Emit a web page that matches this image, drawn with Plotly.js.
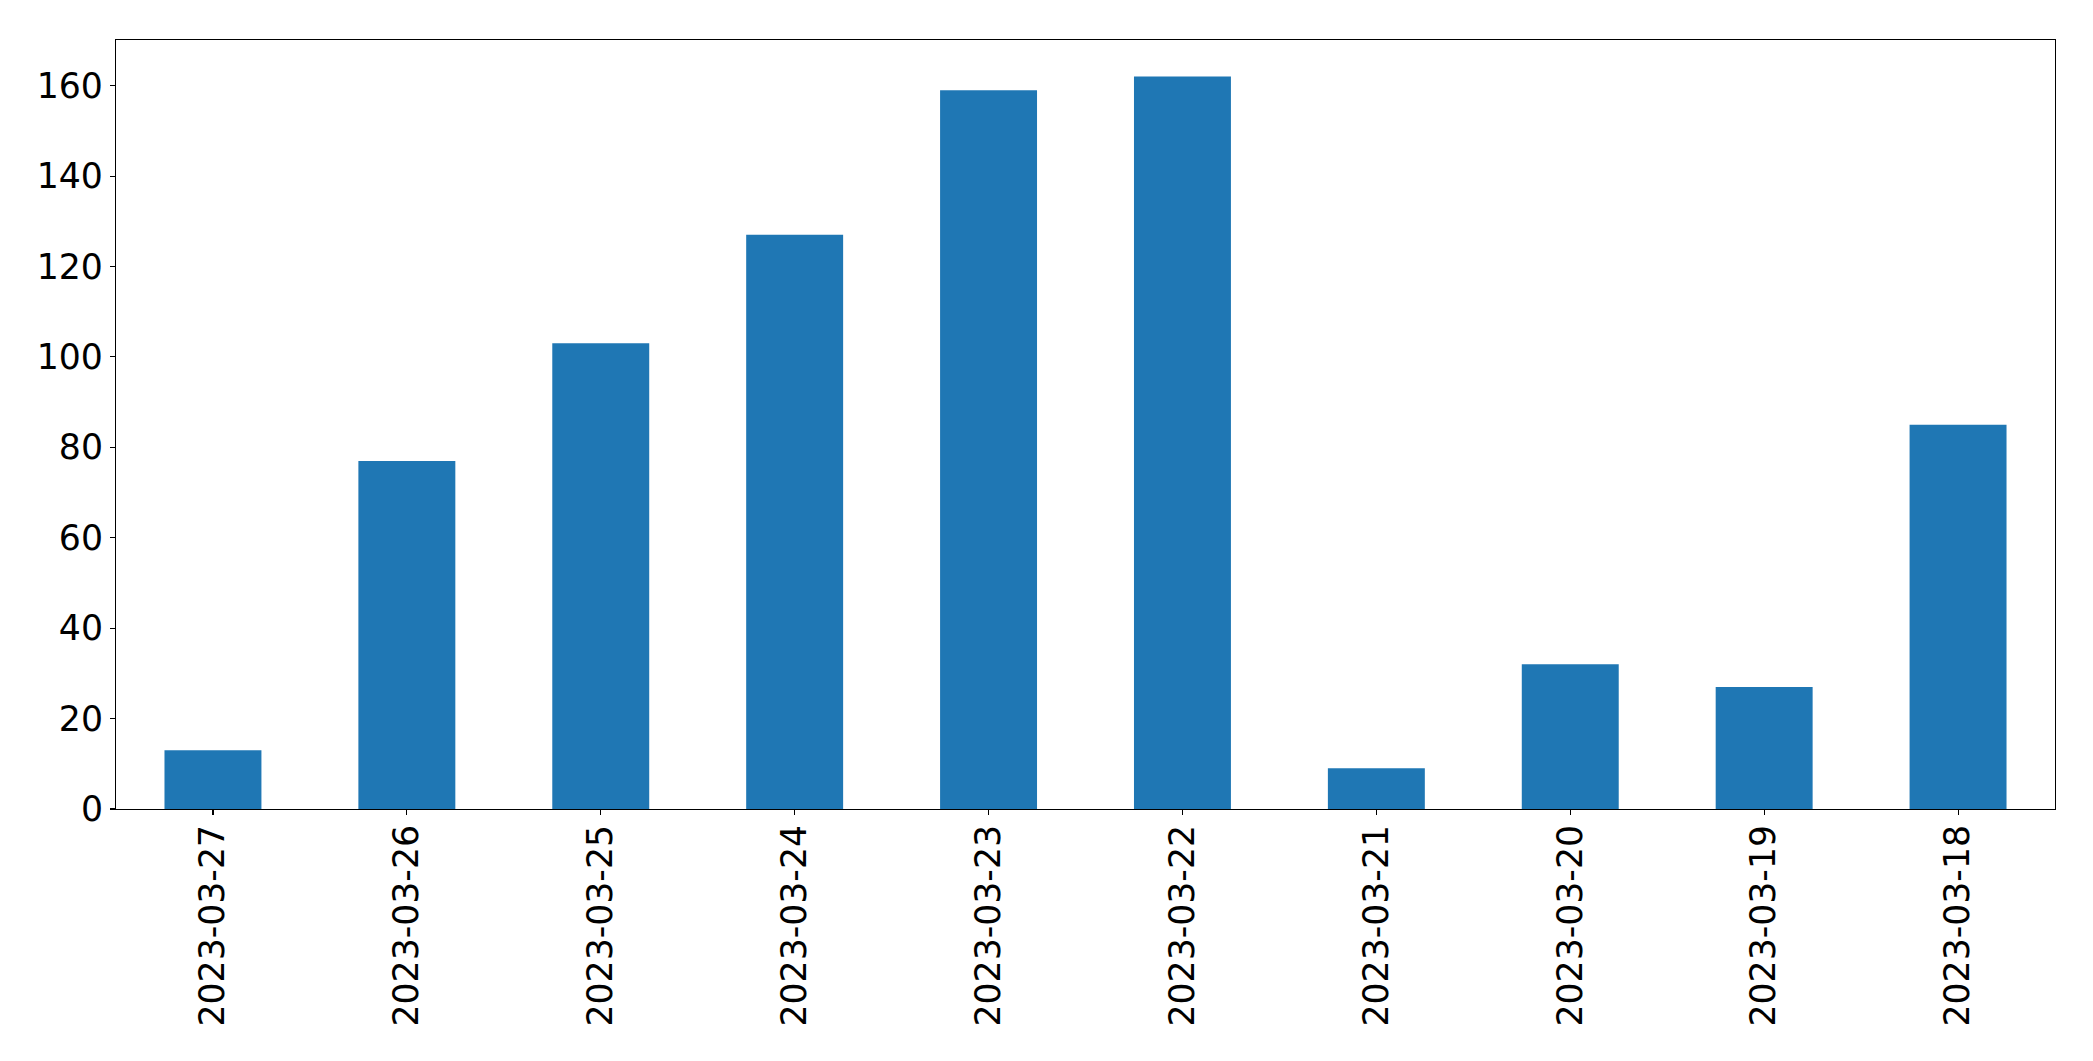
<!DOCTYPE html>
<html>
<head>
<meta charset="utf-8">
<script src="https://cdn.plot.ly/plotly-3.0.1.min.js"></script>
<style>html,body{margin:0;padding:0;background:#fff;}#chart{width:2093px;height:1061px;}</style>
</head>
<body>
<div id="chart"></div>
<script>
const dates = ["2023-03-27","2023-03-26","2023-03-25","2023-03-24","2023-03-23","2023-03-22","2023-03-21","2023-03-20","2023-03-19","2023-03-18"];
const counts = [13, 77, 103, 127, 159, 162, 9, 32, 27, 85];
const yTicks = [0, 20, 40, 60, 80, 100, 120, 140, 160];

const font = {family: "DejaVu Sans", size: 34.7, color: "#000"};
const trace = {
  type: "bar",
  x: dates,
  y: counts,
  width: 0.5,
  marker: {color: "#1f77b4", line: {width: 0}},
  hoverinfo: "x+y"
};
const layout = {
  width: 2093, height: 1061,
  margin: {l: 116, r: 38, t: 40, b: 252, pad: 0},
  paper_bgcolor: "#fff", plot_bgcolor: "#fff",
  showlegend: false,
  bargap: 0.5,
  font: font,
  xaxis: {
    type: "category",
    range: [-0.5, dates.length - 0.5],
    tickangle: -90,
    ticks: "outside", ticklen: 5, tickwidth: 1.1, tickcolor: "#000",
    showline: true, linecolor: "#000", linewidth: 1.1, mirror: true,
    showgrid: false, zeroline: false,
    tickfont: font,
    ticklabelstandoff: -4
  },
  yaxis: {
    range: [0, 170.1],
    tickvals: yTicks,
    ticktext: yTicks.map(String),
    ticks: "outside", ticklen: 5, tickwidth: 1.1, tickcolor: "#000",
    showline: true, linecolor: "#000", linewidth: 1.1, mirror: true,
    showgrid: false, zeroline: false,
    tickfont: font,
    ticklabelstandoff: 0
  }
};
Plotly.newPlot("chart", [trace], layout, {displayModeBar: false, staticPlot: true});
</script>
</body>
</html>
